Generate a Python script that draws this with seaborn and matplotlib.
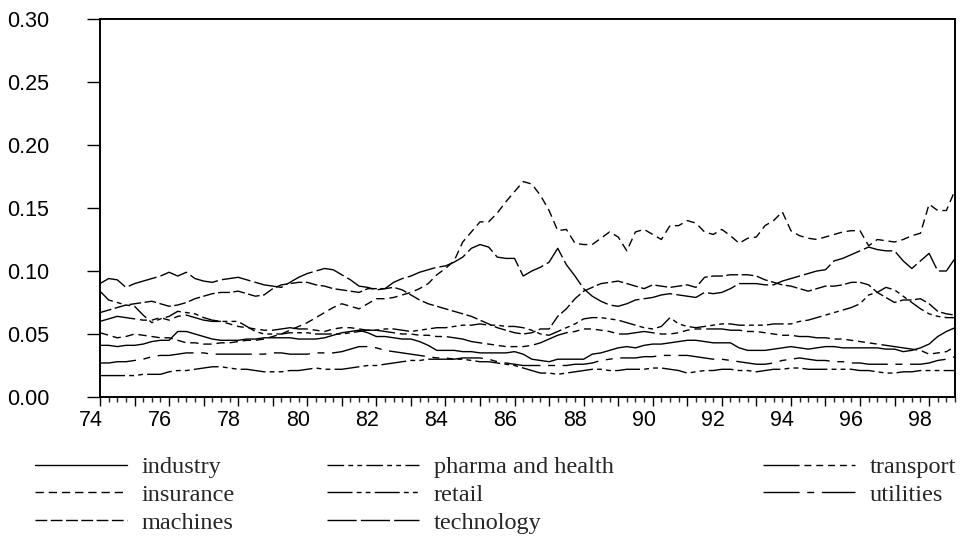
import numpy as np
import pandas as pd
import seaborn as sns
import matplotlib.pyplot as plt
from matplotlib.ticker import MultipleLocator, FuncFormatter
from matplotlib.transforms import ScaledTranslation
from matplotlib.lines import Line2D

# quarterly observations 1974Q1 - 1998Q4
period = 74 + np.arange(100) * 0.25

industry = [0.041, 0.041, 0.040, 0.041, 0.041, 0.042, 0.044, 0.045, 0.045, 0.052, 0.052, 0.050, 0.048, 0.046, 0.045, 0.045, 0.045, 0.046, 0.046, 0.047,
            0.047, 0.047, 0.047, 0.046, 0.046, 0.046, 0.047, 0.049, 0.051, 0.052, 0.053, 0.051, 0.048, 0.048, 0.047, 0.046, 0.046, 0.044, 0.041, 0.037,
            0.037, 0.037, 0.036, 0.036, 0.035, 0.035, 0.035, 0.035, 0.036, 0.034, 0.030, 0.029, 0.028, 0.030, 0.030, 0.030, 0.030, 0.034, 0.035, 0.037,
            0.039, 0.040, 0.039, 0.041, 0.042, 0.042, 0.043, 0.044, 0.045, 0.045, 0.044, 0.043, 0.043, 0.043, 0.039, 0.037, 0.037, 0.037, 0.038, 0.039,
            0.040, 0.039, 0.038, 0.039, 0.040, 0.040, 0.039, 0.039, 0.039, 0.039, 0.039, 0.038, 0.038, 0.036, 0.037, 0.039, 0.042, 0.048, 0.052, 0.055]

insurance = [0.051, 0.049, 0.047, 0.048, 0.050, 0.049, 0.048, 0.047, 0.047, 0.045, 0.043, 0.043, 0.042, 0.042, 0.043, 0.043, 0.044, 0.045, 0.045, 0.046,
             0.048, 0.050, 0.053, 0.056, 0.059, 0.063, 0.067, 0.071, 0.074, 0.072, 0.070, 0.074, 0.078, 0.078, 0.079, 0.081, 0.083, 0.086, 0.090, 0.097,
             0.102, 0.108, 0.123, 0.131, 0.139, 0.139, 0.146, 0.155, 0.163, 0.171, 0.169, 0.160, 0.148, 0.132, 0.133, 0.122, 0.121, 0.121, 0.126, 0.131,
             0.127, 0.116, 0.131, 0.133, 0.129, 0.125, 0.136, 0.136, 0.140, 0.138, 0.131, 0.129, 0.133, 0.128, 0.122, 0.126, 0.127, 0.136, 0.140, 0.147,
             0.132, 0.128, 0.126, 0.125, 0.127, 0.129, 0.131, 0.132, 0.132, 0.120, 0.125, 0.124, 0.123, 0.125, 0.128, 0.130, 0.153, 0.148, 0.148, 0.164]

machines = [0.067, 0.069, 0.071, 0.073, 0.074, 0.075, 0.076, 0.074, 0.072, 0.073, 0.075, 0.078, 0.080, 0.082, 0.083, 0.083, 0.084, 0.082, 0.080, 0.081,
            0.086, 0.089, 0.090, 0.091, 0.091, 0.089, 0.088, 0.086, 0.085, 0.084, 0.083, 0.086, 0.086, 0.086, 0.087, 0.085, 0.081, 0.077, 0.074, 0.072,
            0.070, 0.068, 0.066, 0.064, 0.061, 0.058, 0.055, 0.053, 0.051, 0.050, 0.051, 0.054, 0.054, 0.064, 0.070, 0.078, 0.084, 0.087, 0.090, 0.091,
            0.092, 0.090, 0.088, 0.086, 0.089, 0.088, 0.087, 0.088, 0.089, 0.087, 0.095, 0.096, 0.096, 0.097, 0.097, 0.097, 0.096, 0.093, 0.091, 0.089,
            0.088, 0.086, 0.084, 0.086, 0.088, 0.088, 0.089, 0.091, 0.091, 0.089, 0.083, 0.079, 0.075, 0.077, 0.077, 0.078, 0.074, 0.068, 0.066, 0.065]

pharma = [0.084, 0.077, 0.075, 0.073, 0.072, 0.065, 0.059, 0.062, 0.064, 0.068, 0.067, 0.066, 0.063, 0.061, 0.060, 0.060, 0.060, 0.056, 0.052, 0.050,
          0.050, 0.050, 0.051, 0.051, 0.051, 0.050, 0.050, 0.050, 0.050, 0.051, 0.052, 0.053, 0.053, 0.054, 0.054, 0.053, 0.052, 0.053, 0.054, 0.055,
          0.055, 0.056, 0.057, 0.057, 0.058, 0.057, 0.057, 0.056, 0.056, 0.055, 0.053, 0.050, 0.049, 0.052, 0.055, 0.058, 0.062, 0.063, 0.063, 0.062,
          0.061, 0.059, 0.057, 0.055, 0.054, 0.056, 0.063, 0.058, 0.056, 0.055, 0.056, 0.057, 0.058, 0.058, 0.057, 0.057, 0.057, 0.057, 0.058, 0.058,
          0.058, 0.060, 0.061, 0.063, 0.065, 0.067, 0.069, 0.071, 0.074, 0.081, 0.083, 0.087, 0.085, 0.080, 0.075, 0.070, 0.066, 0.064, 0.063, 0.063]

retail = [0.017, 0.017, 0.017, 0.017, 0.017, 0.018, 0.018, 0.018, 0.020, 0.021, 0.021, 0.022, 0.023, 0.024, 0.024, 0.023, 0.022, 0.022, 0.021, 0.020,
          0.020, 0.020, 0.021, 0.021, 0.022, 0.023, 0.022, 0.022, 0.022, 0.023, 0.024, 0.025, 0.025, 0.026, 0.027, 0.028, 0.029, 0.029, 0.030, 0.030,
          0.030, 0.030, 0.030, 0.029, 0.028, 0.028, 0.027, 0.026, 0.025, 0.023, 0.021, 0.019, 0.019, 0.018, 0.019, 0.020, 0.021, 0.022, 0.022, 0.021,
          0.021, 0.022, 0.022, 0.022, 0.023, 0.023, 0.022, 0.021, 0.019, 0.020, 0.021, 0.021, 0.022, 0.022, 0.021, 0.021, 0.020, 0.021, 0.022, 0.022,
          0.023, 0.023, 0.022, 0.022, 0.022, 0.022, 0.022, 0.022, 0.021, 0.021, 0.020, 0.019, 0.019, 0.020, 0.020, 0.021, 0.021, 0.021, 0.021, 0.021]

technology = [0.090, 0.094, 0.093, 0.087, 0.090, 0.092, 0.094, 0.096, 0.099, 0.096, 0.099, 0.094, 0.092, 0.091, 0.093, 0.094, 0.095, 0.093, 0.091, 0.089,
              0.088, 0.087, 0.091, 0.095, 0.098, 0.100, 0.102, 0.101, 0.097, 0.093, 0.088, 0.087, 0.085, 0.086, 0.091, 0.094, 0.096, 0.099, 0.101, 0.103,
              0.104, 0.107, 0.111, 0.118, 0.121, 0.119, 0.111, 0.110, 0.110, 0.096, 0.100, 0.103, 0.107, 0.118, 0.105, 0.096, 0.086, 0.080, 0.076, 0.073,
              0.072, 0.074, 0.077, 0.078, 0.079, 0.081, 0.082, 0.081, 0.080, 0.079, 0.083, 0.082, 0.083, 0.086, 0.090, 0.090, 0.090, 0.089, 0.089, 0.092,
              0.094, 0.096, 0.098, 0.100, 0.101, 0.108, 0.110, 0.113, 0.116, 0.119, 0.117, 0.116, 0.116, 0.108, 0.102, 0.108, 0.114, 0.100, 0.100, 0.110]

transport = [0.060, 0.062, 0.064, 0.063, 0.062, 0.061, 0.061, 0.063, 0.061, 0.064, 0.065, 0.063, 0.061, 0.060, 0.060, 0.058, 0.056, 0.055, 0.054, 0.053,
             0.053, 0.054, 0.055, 0.054, 0.054, 0.053, 0.052, 0.054, 0.055, 0.055, 0.054, 0.053, 0.053, 0.052, 0.051, 0.050, 0.050, 0.049, 0.049, 0.048,
             0.048, 0.047, 0.046, 0.044, 0.043, 0.042, 0.041, 0.040, 0.040, 0.040, 0.041, 0.043, 0.046, 0.049, 0.051, 0.052, 0.054, 0.054, 0.053, 0.052,
             0.050, 0.050, 0.051, 0.052, 0.051, 0.050, 0.050, 0.051, 0.053, 0.054, 0.054, 0.054, 0.054, 0.053, 0.053, 0.052, 0.052, 0.051, 0.050, 0.049,
             0.049, 0.048, 0.048, 0.047, 0.047, 0.046, 0.046, 0.045, 0.044, 0.043, 0.042, 0.041, 0.040, 0.039, 0.038, 0.037, 0.034, 0.035, 0.036, 0.040]

utilities = [0.027, 0.027, 0.028, 0.028, 0.029, 0.030, 0.032, 0.033, 0.033, 0.034, 0.035, 0.035, 0.035, 0.034, 0.034, 0.034, 0.034, 0.034, 0.034, 0.034,
             0.035, 0.035, 0.034, 0.034, 0.034, 0.035, 0.035, 0.035, 0.036, 0.038, 0.040, 0.040, 0.039, 0.037, 0.036, 0.035, 0.034, 0.033, 0.032, 0.031,
             0.031, 0.030, 0.031, 0.031, 0.031, 0.030, 0.028, 0.027, 0.026, 0.025, 0.025, 0.025, 0.025, 0.025, 0.025, 0.026, 0.026, 0.027, 0.029, 0.030,
             0.031, 0.031, 0.031, 0.032, 0.032, 0.033, 0.033, 0.033, 0.033, 0.032, 0.031, 0.030, 0.030, 0.029, 0.028, 0.027, 0.026, 0.026, 0.027, 0.029,
             0.030, 0.031, 0.030, 0.029, 0.029, 0.028, 0.028, 0.027, 0.027, 0.026, 0.026, 0.026, 0.026, 0.026, 0.026, 0.026, 0.027, 0.029, 0.030, 0.032]

names = ["industry", "insurance", "machines", "pharma and health",
         "retail", "technology", "transport", "utilities"]
values = [industry, insurance, machines, pharma, retail, technology, transport, utilities]

# dash patterns (points), None = solid
dash_styles = {
    "industry": None,
    "insurance": (6, 3.5),
    "machines": (8.5, 2.5),
    "pharma and health": (12, 3, 3.5, 3, 3.5, 3),
    "retail": (18, 3, 3.5, 3, 3.5, 3),
    "technology": (21, 3),
    "transport": (26, 3.5, 5, 3.5, 5, 3.5, 5, 3.5, 5, 3.5),
    "utilities": (26, 5.5, 5, 5.5),
}

df = pd.DataFrame({"period": np.tile(period, len(names)),
                   "value": np.concatenate(values),
                   "series": np.repeat(names, len(period))})

sns.set_style("ticks")
plt.rcParams['font.family'] = ['Liberation Sans', 'DejaVu Sans']

fig = plt.figure(figsize=(9.63, 5.41), dpi=100)
ax = fig.add_axes([100 / 963, 1 - 397 / 541, 855 / 963, 378 / 541])

handles = []
for name in names:
    sub = df[df["series"] == name]
    sns.lineplot(data=sub, x="period", y="value", color="black", lw=1.0,
                 errorbar=None, ax=ax, legend=False)
    line = ax.lines[-1]
    if dash_styles[name] is not None:
        line.set_dashes(dash_styles[name])
    h = Line2D([], [], color="black", lw=1.0)
    if dash_styles[name] is not None:
        h.set_dashes(dash_styles[name])
    handles.append(h)

ax.set_xlim(74, 98.75)
ax.set_ylim(0, 0.30)
ax.set_xlabel("")
ax.set_ylabel("")

ax.yaxis.set_major_locator(MultipleLocator(0.05))
ax.yaxis.set_major_formatter(FuncFormatter(lambda v, p: f"{v:.2f}"))
ax.xaxis.set_major_locator(MultipleLocator(1))
ax.xaxis.set_minor_locator(MultipleLocator(0.25))
ax.xaxis.set_major_formatter(FuncFormatter(lambda v, p: f"{int(round(v))}" if int(round(v)) % 2 == 0 else ""))

for side in ["left", "right", "top", "bottom"]:
    ax.spines[side].set_visible(True)
    ax.spines[side].set_linewidth(1.4)
    ax.spines[side].set_color("black")

ax.tick_params(axis="y", which="major", direction="out", length=9.4, width=1.0,
               pad=27, labelsize=15.5, colors="black")
ax.tick_params(axis="x", which="major", direction="out", length=6.5, width=1.0,
               pad=3, labelsize=15.5, colors="black")
ax.tick_params(axis="x", which="minor", direction="out", length=3.6, width=1.0)

# tick labels of the x axis sit a little to the left of their tick
shift = ScaledTranslation(-9 / 100, 0, fig.dpi_scale_trans)
for lab in ax.get_xticklabels():
    lab.set_transform(lab.get_transform() + shift)

# legend: three columns below the plot
cols = [(0, 3, 35), (3, 6, 327), (6, 8, 763)]
for start, stop, xpix in cols:
    fig.legend(handles[start:stop], names[start:stop], loc="upper left",
               bbox_to_anchor=(xpix / 963, 1 - 456 / 541), frameon=False,
               borderpad=0, borderaxespad=0, handlelength=3.8, handletextpad=0.6,
               labelspacing=0.24, prop={"family": "Liberation Serif", "size": 17.5})

plt.savefig("out.png", dpi=100, facecolor="white")
